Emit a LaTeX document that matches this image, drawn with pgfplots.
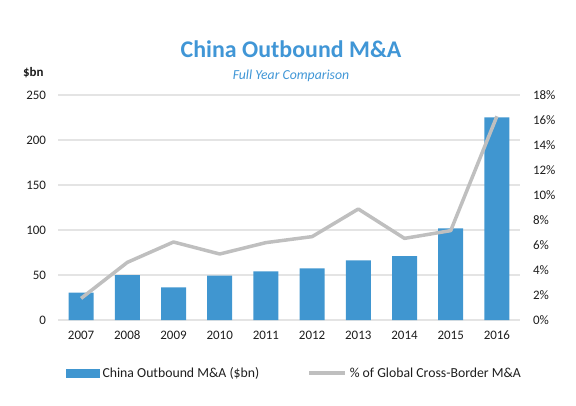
\documentclass[border=0pt]{standalone}
\usepackage{fontspec}
\setmainfont{Carlito}
\usepackage{pgfplots}
\pgfplotsset{compat=1.18}
\definecolor{barblue}{RGB}{64,150,208}
\definecolor{titleblue}{RGB}{64,150,214}
\definecolor{linegray}{RGB}{191,191,191}
\definecolor{gridgray}{RGB}{228,228,228}
\definecolor{txt}{RGB}{30,30,30}
\pgfplotsset{
  every axis/.append style={
    /pgf/number format/assume math mode=true,
    tick label style={font=\fontsize{13}{15}\selectfont, text=txt},
    scale only axis, width=462bp, height=225bp,
    at={(58bp,85bp)}, anchor=south west,
    xmin=-0.5, xmax=9.5,
    axis line style={draw=none},
    major tick length=0pt,
  }
}
\begin{document}
\begin{tikzpicture}[x=1bp,y=1bp]
\useasboundingbox (0,0) rectangle (576,405);
\begin{axis}[
  ymin=0, ymax=250,
  ytick={0,50,100,150,200,250},
  ymajorgrids, grid style={gridgray, line width=1.2bp},
  xtick={0,1,2,3,4,5,6,7,8,9},
  xticklabels={2007,2008,2009,2010,2011,2012,2013,2014,2015,2016},
  yticklabel style={xshift=-8.5bp},
  xticklabel style={anchor=north, yshift=-8bp, text height=8.4bp, text depth=0bp},
  axis y line*=left, axis x line*=bottom,
]
\addplot[ybar, bar width=25bp, fill=barblue, draw=none] coordinates {
(0,30.3) (1,50.0) (2,36.3) (3,49.3) (4,54.1) (5,57.4) (6,66.3) (7,71.1) (8,101.9) (9,225.2)
};
\end{axis}
\begin{axis}[
  ymin=0, ymax=18,
  ytick={0,2,4,6,8,10,12,14,16,18},
  yticklabel={\pgfmathprintnumber{\tick}\%},
  yticklabel style={xshift=9.5bp},
  axis y line*=right, axis x line=none,
  xtick=\empty,
  legend style={at={(0.512,-0.236)}, anchor=center, draw=none, fill=none,
    legend columns=2, font=\fontsize{13.8}{16}\selectfont, text=txt,
    inner sep=0pt,
    /tikz/every odd column/.append style={column sep=1bp},
    /tikz/every even column/.append style={column sep=46bp}},
]
\addlegendimage{legend image code/.code={\fill[barblue] (0bp,-4bp) rectangle (33bp,4bp);}}
\addlegendentry{China Outbound M\&A (\$bn)}
\addplot[linegray, line width=3.5bp, line join=round, mark=none,
  legend image code/.code={\draw[linegray,line width=3.5bp] (0bp,0bp) -- (36bp,0bp);}] coordinates {
(0,1.73) (1,4.61) (2,6.24) (3,5.28) (4,6.19) (5,6.67) (6,8.88) (7,6.53) (8,7.15) (9,16.3)
};
\addlegendentry{\% of Global Cross-Border M\&A}
\end{axis}
\node[font=\fontsize{24}{28}\selectfont\bfseries, text=titleblue] at (291,356) {China Outbound M\&A};
\node[font=\fontsize{13.8}{16}\selectfont\itshape, text=titleblue] at (291,329) {Full Year Comparison};
\node[font=\fontsize{13}{15}\selectfont\bfseries, text=txt, anchor=east] at (47,332) {\$bn};
\end{tikzpicture}
\end{document}
